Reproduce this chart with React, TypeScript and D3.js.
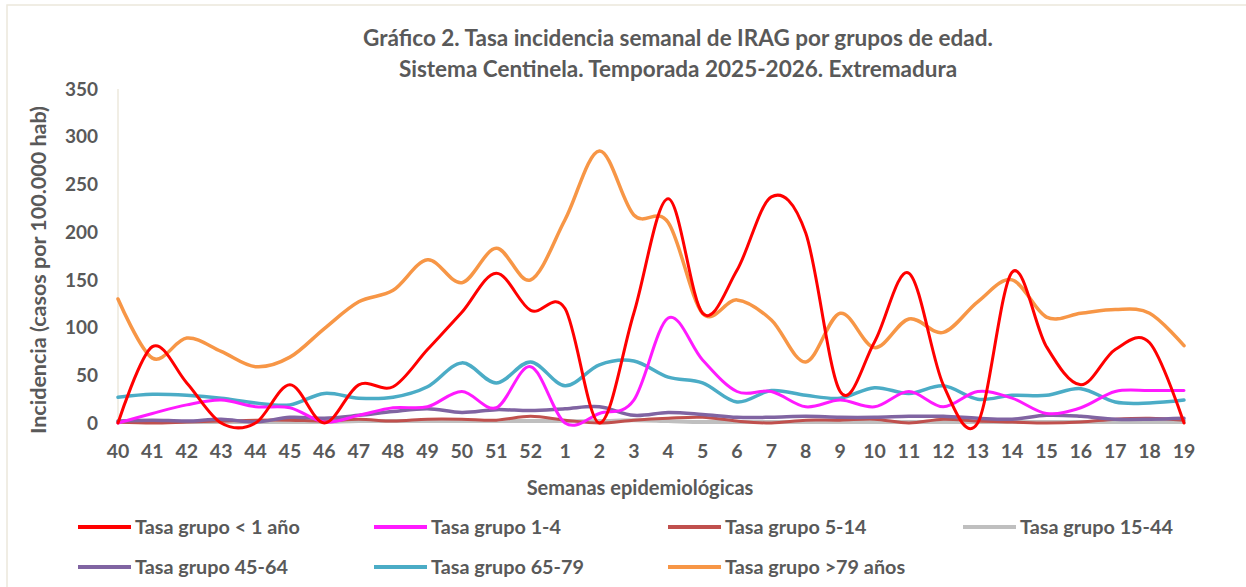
import React from "react";
import * as d3 from "d3";

const weeks = ["40","41","42","43","44","45","46","47","48","49","50","51","52","1","2","3","4","5","6","7","8","9","10","11","12","13","14","15","16","17","18","19"];

const lt1 = [0,80,42,0,0,40,0,40,38,77,116,157,118,120,0,115,235,115,160,237,199,33,85,157,40,0,158,80,40,77,84,0];
const g1_4 = [0,10,19,24,17,16,1,8,16,17,33,16,59,0,10,24,110,66,33,33,17,24,17,33,17,33,26,10,16,33,34,34];
const g5_14 = [1,0,1,2,3,3,2,4,2,4,4,3,7,3,0,3,5,6,2,0,3,3,4,0,4,2,1,0,1,4,5,3];
const g15_44 = [1,1,1,1,1,1,1,2,2,2,2,2,2,2,2,3,2,1,1,1,1,1,1,1,1,1,1,1,1,1,1,1];
const g45_64 = [2,3,2,4,1,6,5,8,12,15,11,14,13,15,17,8,11,9,6,6,7,6,6,7,7,5,4,8,7,4,4,5];
const g65_79 = [27,30,29,26,21,19,31,26,27,38,63,42,64,39,61,65,48,42,22,34,29,26,37,31,39,25,29,29,36,22,21,24];
const g79 = [130,68,89,75,59,69,99,127,139,171,147,183,150,213,285,218,210,115,129,108,64,115,79,109,95,127,150,111,115,119,115,81];

const yTicks = [0,50,100,150,200,250,300,350];

const seriesNames = ["Tasa grupo < 1 año","Tasa grupo 1-4","Tasa grupo 5-14","Tasa grupo 15-44","Tasa grupo 45-64","Tasa grupo 65-79","Tasa grupo >79 años"];
const seriesColors = ["#ff0000","#ff1aff","#c0504d","#bfbfbf","#8064a2","#4bacc6","#f79646"];
const seriesData = [lt1,g1_4,g5_14,g15_44,g45_64,g65_79,g79];
const seriesWidths = [3,3,3,4,3.5,3.5,3.5];
const drawOrder = [3,2,4,5,1,6,0];

const W = 1246, H = 587;
const FONT = "Lato, 'Open Sans', sans-serif";
const TXT = "#595959";

export default function App() {
  const x = d3.scalePoint<string>().domain(weeks).range([118, 1184]);
  const y = d3.scaleLinear().domain([0, 350]).range([423, 89]);
  const line = d3.line<number>()
    .x((_, i) => x(weeks[i]) as number)
    .y((d) => y(d))
    .curve(d3.curveCardinal.tension(0));

  const legendCols = [78, 374, 668, 963];
  const legendRows = [527, 567];

  return (
    <svg width={W} height={H} style={{ position: "absolute", left: 0, top: 0, background: "#fff" }}>
      <rect x={7} y={5} width={W + 10} height={H + 10} fill="#fff" stroke="#ece8dc" strokeWidth={1.5} />
      <text x={678} y={46} textAnchor="middle" fontFamily={FONT} fontWeight="bold" fontSize={22.5} fill={TXT}>
        Gráfico 2. Tasa incidencia semanal de IRAG por grupos de edad.
      </text>
      <text x={678} y={77} textAnchor="middle" fontFamily={FONT} fontWeight="bold" fontSize={22.5} fill={TXT}>
        Sistema Centinela. Temporada 2025-2026. Extremadura
      </text>

      <line x1={118} x2={118} y1={89} y2={423} stroke="#ece8dc" strokeWidth={1.5} />

      {yTicks.map((t) => (
        <text key={t} x={98} y={y(t)} dy="0.35em" textAnchor="end" fontFamily={FONT} fontWeight="bold" fontSize={19} fill={TXT}>
          {t}
        </text>
      ))}
      {weeks.map((w) => (
        <text key={w} x={x(w)} y={451} dy="0.35em" textAnchor="middle" fontFamily={FONT} fontWeight="bold" fontSize={19.5} fill={TXT}>
          {w}
        </text>
      ))}

      <text transform={`translate(38,${270}) rotate(-90)`} textAnchor="middle" dy="0.35em" fontFamily={FONT} fontWeight="bold" fontSize={21.5} fill={TXT}>
        Incidencia (casos por 100.000 hab)
      </text>
      <text x={640} y={488} dy="0.35em" textAnchor="middle" fontFamily={FONT} fontWeight="bold" fontSize={20} fill={TXT}>
        Semanas epidemiológicas
      </text>

      {drawOrder.map((si) => (
        <path key={si} d={line(seriesData[si]) || ""} fill="none" stroke={seriesColors[si]} strokeWidth={seriesWidths[si]} strokeLinejoin="round" strokeLinecap="round" />
      ))}

      {seriesNames.map((n, i) => {
        const cx = legendCols[i % 4];
        const cy = legendRows[Math.floor(i / 4)];
        return (
          <g key={n}>
            <line x1={cx} x2={cx + 53} y1={cy} y2={cy} stroke={seriesColors[i]} strokeWidth={4} />
            <text x={cx + 57} y={cy} dy="0.35em" fontFamily={FONT} fontWeight="bold" fontSize={19.8} fill={TXT}>
              {n}
            </text>
          </g>
        );
      })}
    </svg>
  );
}
